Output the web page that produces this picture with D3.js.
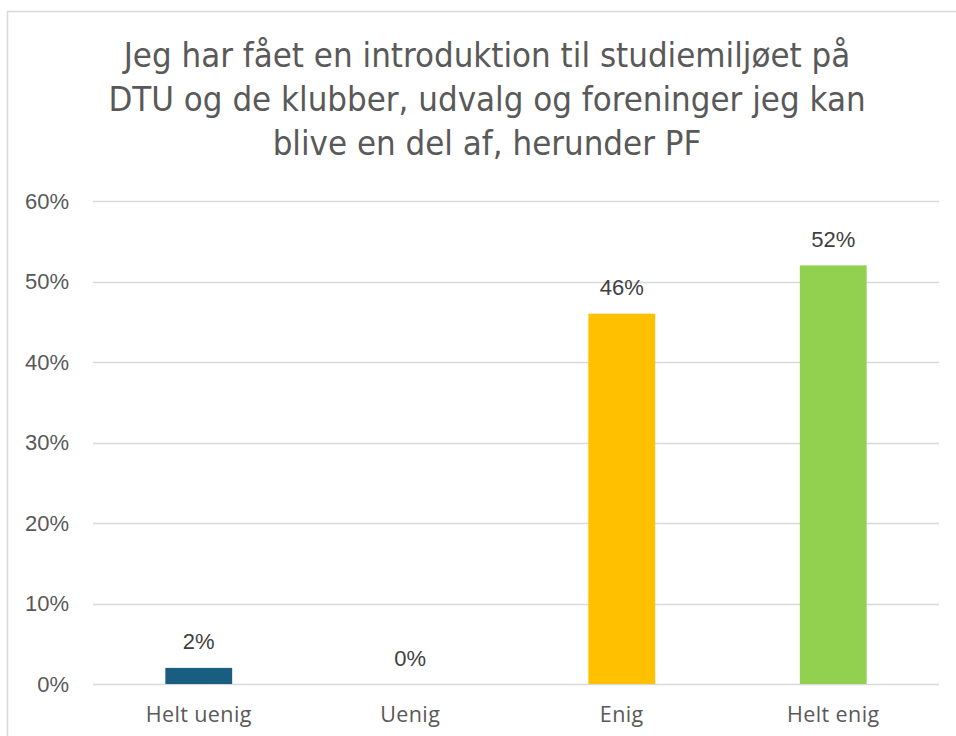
<!DOCTYPE html>
<html>
<head>
<meta charset="utf-8">
<script src="https://cdn.jsdelivr.net/npm/d3@7"></script>
<style>
  html, body { margin: 0; padding: 0; background: #ffffff; }
  svg { display: block; }
</style>
</head>
<body>
<script>
const titleLines = [
  "Jeg har fået en introduktion til studiemiljøet på",
  "DTU og de klubber, udvalg og foreninger jeg kan",
  "blive en del af, herunder PF"
];
const categories = ["Helt uenig", "Uenig", "Enig", "Helt enig"];
const values = [0.02, 0.00, 0.46, 0.52];
const colors = ["#195E80", "#A5A5A5", "#FFC000", "#92D050"];
const yTicks = [0, 0.1, 0.2, 0.3, 0.4, 0.5, 0.6];

const W = 956, H = 736;
const svg = d3.select("body").append("svg").attr("width", W).attr("height", H);

svg.append("rect").attr("width", W).attr("height", H).attr("fill", "#fff");
// outer chart frame (extends past right/bottom edges)
svg.append("rect")
  .attr("x", 7.5).attr("y", 11.5).attr("width", W + 20).attr("height", H + 20)
  .attr("fill", "none").attr("stroke", "#d9d9d9").attr("stroke-width", 1.5);

const m = { left: 93, right: 17, top: 201, bottom: 52 };
const x = d3.scaleBand().domain(categories).range([m.left, W - m.right]).paddingInner(0.684).paddingOuter(0.342);
const y = d3.scaleLinear().domain([0, 0.6]).range([H - m.bottom, m.top]);

// title
svg.append("g").selectAll("text").data(titleLines).join("text")
  .attr("x", 487).attr("y", (d, i) => 67 + i * 44)
  .attr("text-anchor", "middle")
  .attr("font-family", "'DejaVu Sans Condensed', 'Liberation Sans Narrow', sans-serif")
  .attr("font-size", 34.5)
  .attr("fill", "#595959")
  .text(d => d);

// gridlines
svg.append("g").selectAll("line").data(yTicks).join("line")
  .attr("x1", m.left).attr("x2", W - m.right)
  .attr("y1", d => Math.round(y(d)) + 0.5).attr("y2", d => Math.round(y(d)) + 0.5)
  .attr("stroke", "#d9d9d9").attr("stroke-width", 1.3);

// y axis labels
const yAxis = d3.axisLeft(y).tickValues(yTicks).tickFormat(d3.format(".0%")).tickSize(0).tickPadding(24);
const gy = svg.append("g").attr("transform", `translate(${m.left},0)`).call(yAxis);
gy.select(".domain").remove();
gy.selectAll("text").attr("font-family", "'Liberation Sans', Arial, sans-serif")
  .attr("font-size", 22).attr("fill", "#595959");

// bars
svg.append("g").selectAll("rect").data(values).join("rect")
  .attr("x", (d, i) => x(categories[i]))
  .attr("width", x.bandwidth())
  .attr("y", d => y(d))
  .attr("height", d => y(0) - y(d))
  .attr("fill", (d, i) => colors[i]);

// data labels
svg.append("g").selectAll("text").data(values).join("text")
  .attr("x", (d, i) => x(categories[i]) + x.bandwidth() / 2)
  .attr("y", d => y(d) - 18.5)
  .attr("text-anchor", "middle")
  .attr("font-family", "'Liberation Sans', Arial, sans-serif")
  .attr("font-size", 22).attr("fill", "#404040")
  .text(d => d3.format(".0%")(d));

// x axis labels
const xAxis = d3.axisBottom(x).tickSize(0).tickPadding(23);
const gx = svg.append("g").attr("transform", `translate(0,${y(0)})`).call(xAxis);
gx.select(".domain").remove();
gx.selectAll("text").attr("font-family", "'Open Sans', sans-serif")
  .attr("font-size", 21.5).attr("letter-spacing", 0.4).attr("fill", "#595959");
</script>
</body>
</html>
